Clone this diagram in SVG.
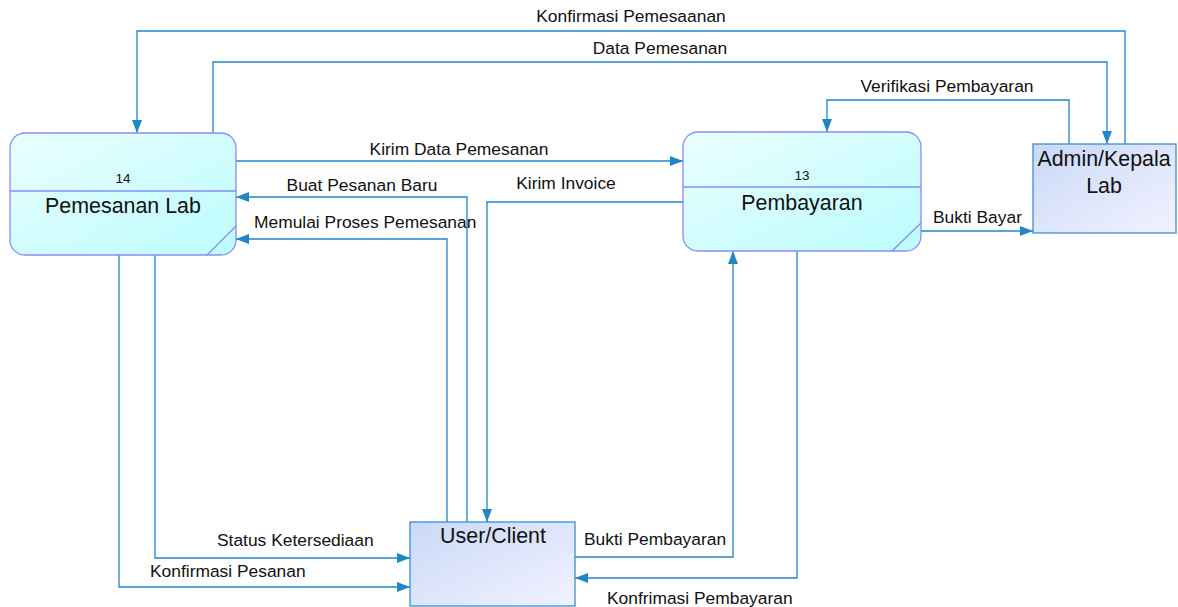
<svg xmlns="http://www.w3.org/2000/svg" width="1178" height="607" viewBox="0 0 1178 607">
<defs>
<linearGradient id="gProc" x1="0" y1="0" x2="1" y2="1">
<stop offset="0" stop-color="#eafeff"/>
<stop offset="1" stop-color="#bcfcfd"/>
</linearGradient>
<linearGradient id="gExt" x1="0" y1="0" x2="1" y2="1">
<stop offset="0" stop-color="#c9d9f7"/>
<stop offset="1" stop-color="#f2f2ff"/>
</linearGradient>
<marker id="arr" markerUnits="userSpaceOnUse" markerWidth="14" markerHeight="12" refX="13" refY="5" orient="auto">
<path d="M0,0 L13,5 L0,10 z" fill="#1f87c7"/>
</marker>
</defs>
<style>
.proc{fill:url(#gProc);stroke:#8a8cf5;stroke-width:1.3}
.pline{stroke:#8a8cf5;stroke-width:1.3;fill:none}
.ext{fill:url(#gExt);stroke:#3c8ed0;stroke-width:1.3}
.conn path{fill:none;stroke:#1f87c7;stroke-width:1.3;marker-end:url(#arr)}
text{font-family:"Liberation Sans",Arial,sans-serif;fill:#111}
.lbl{font-size:17.4px}
.num{font-size:13.5px}
.nm{font-size:21.4px}
</style>
<rect width="1178" height="607" fill="#ffffff"/>
<g id="conns" class="conn">
<path d="M1125,144 V31 H137 V133"/>
<path d="M213,133 V62 H1107 V144"/>
<path d="M1069,144 V100 H827 V132"/>
<path d="M236,161 H683"/>
<path d="M467,522 V197 H236"/>
<path d="M447,522 V239 H236"/>
<path d="M683,202 H487 V522"/>
<path d="M921,231 H1033"/>
<path d="M575,557 H733 V251"/>
<path d="M797,251 V578 H575"/>
<path d="M155,255 V558 H410"/>
<path d="M119,255 V587 H410"/>
</g>
<g id="labels" class="lbl">
<text x="631" y="22" text-anchor="middle">Konfirmasi Pemesaanan</text>
<text x="660" y="54" text-anchor="middle">Data Pemesanan</text>
<text x="947" y="92" text-anchor="middle">Verifikasi Pembayaran</text>
<text x="459" y="155" text-anchor="middle">Kirim Data Pemesanan</text>
<text x="362" y="191" text-anchor="middle">Buat Pesanan Baru</text>
<text x="566" y="189" text-anchor="middle">Kirim Invoice</text>
<text x="254" y="228">Memulai Proses Pemesanan</text>
<text x="933" y="223">Bukti Bayar</text>
<text x="217" y="546">Status Ketersediaan</text>
<text x="150" y="577">Konfirmasi Pesanan</text>
<text x="584" y="545">Bukti Pembayaran</text>
<text x="607" y="604">Konfrimasi Pembayaran</text>
</g>
<g id="node-pemesanan-lab">
<rect class="proc" x="10" y="133" width="226" height="122" rx="15" ry="15"/>
<line class="pline" x1="10" y1="191" x2="236" y2="191"/>
<line class="pline" x1="236" y1="226" x2="207" y2="255"/>
<text class="num" x="123" y="183" text-anchor="middle">14</text>
<text class="nm" x="123" y="213" text-anchor="middle">Pemesanan Lab</text>
</g>
<g id="node-pembayaran">
<rect class="proc" x="683" y="132" width="238" height="119" rx="15" ry="15"/>
<line class="pline" x1="683" y1="187" x2="921" y2="187"/>
<line class="pline" x1="921" y1="223" x2="892" y2="251"/>
<text class="num" x="802" y="180" text-anchor="middle">13</text>
<text class="nm" x="802" y="210" text-anchor="middle">Pembayaran</text>
</g>
<g id="node-admin">
<rect class="ext" x="1033" y="144" width="143" height="89"/>
<text class="nm" x="1104" y="166" text-anchor="middle">Admin/Kepala</text>
<text class="nm" x="1104" y="193" text-anchor="middle">Lab</text>
</g>
<g id="node-user">
<rect class="ext" x="410" y="522" width="165" height="84"/>
<text class="nm" x="493" y="543" text-anchor="middle">User/Client</text>
</g>
</svg>
